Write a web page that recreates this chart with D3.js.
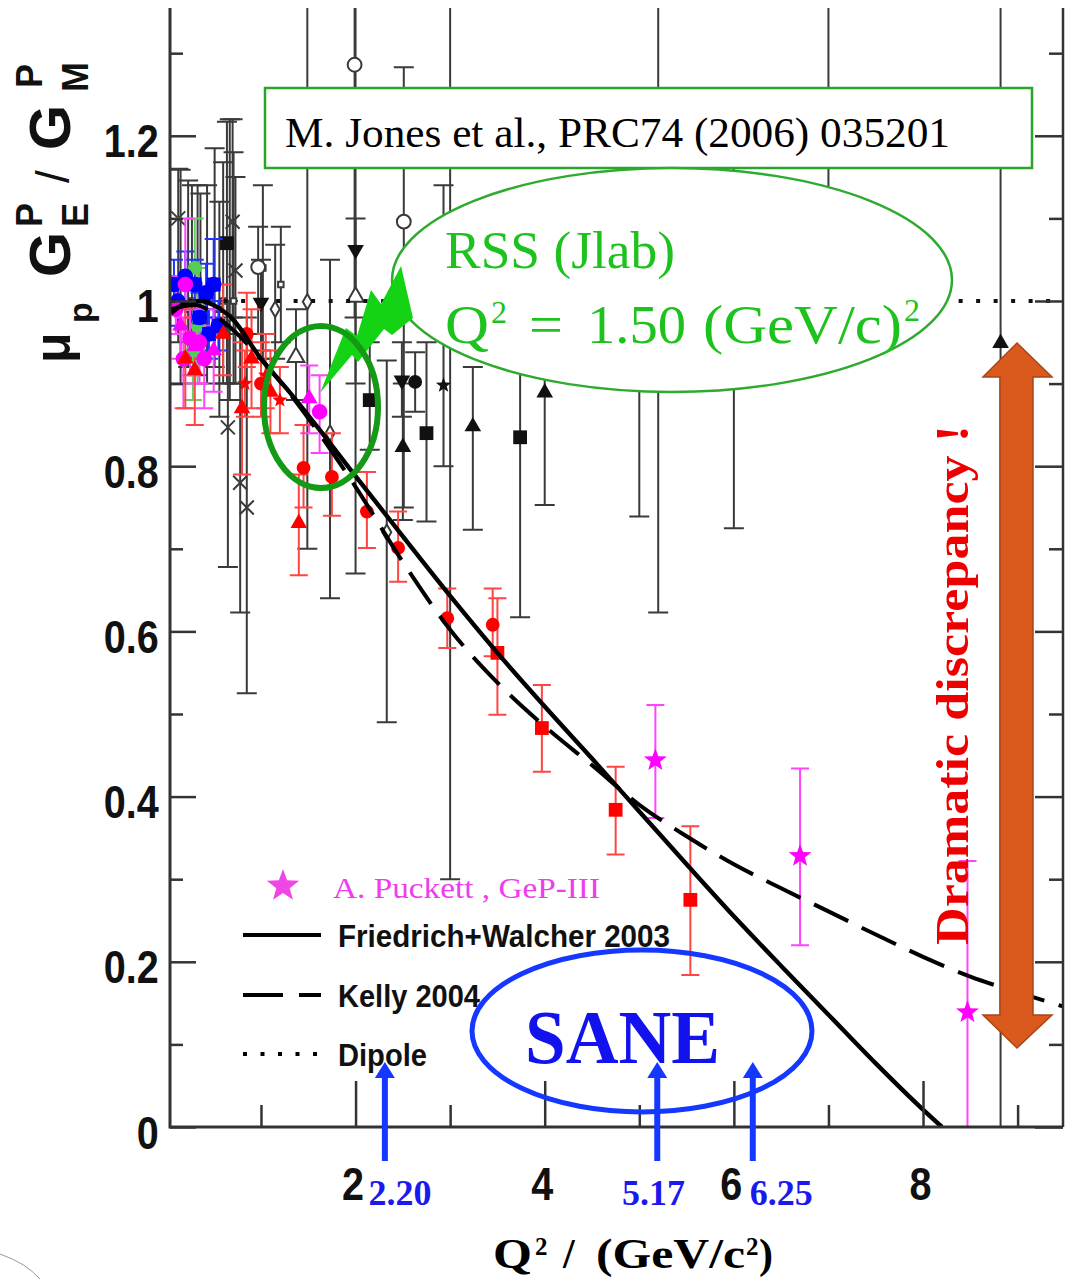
<!DOCTYPE html>
<html lang="en">
<head>
<meta charset="UTF-8">
<title>mu_p GEp/GMp vs Q2</title>
<script src="https://cdn.jsdelivr.net/npm/d3@7"></script>
<style>
  body { margin: 0; background: #fff; }
  svg { display: block; }
  .serif { font-family: 'Liberation Serif', 'Times New Roman', serif; }
  .sans { font-family: 'Liberation Sans', Arial, sans-serif; }
</style>
</head>
<body>
<div id="chart"></div>
<script>
const width = 1065, height = 1279;
const plot = { left: 170, right: 1063, top: 8, bottom: 1127 };

// ---- data: each row is [Q2, value, low end of bar, high end of bar] ----
const oldOpenCircle = [[1.99, 1.286, 0.98, 1.6], [2.51, 1.096, 0.75, 1.283], [0.97, 1.041, 0.96, 1.09]];
const oldOpenTriangle = [[2.0, 1.005, 0.67, 1.1], [1.37, 0.932, 0.88, 0.99]];
const oldOpenDiamond = [[1.49, 0.999, 0.70, 1.6], [1.15, 0.99, 0.93, 1.068], [2.33, 0.72, 0.49, 0.928], [1.73, 0.84, 0.64, 1.05]];
const oldDown = [[2.0, 1.062, 0.9, 1.6], [2.49, 0.904, 0.86, 0.95], [1.0, 0.998, 0.94, 1.05]];
const oldCircle = [[2.63, 0.902, 0.866, 0.938]];
const oldSquare = [[0.64, 1.07, 0.9, 1.217], [2.15, 0.880, 0.82, 0.95], [2.75, 0.840, 0.733, 0.95], [3.74, 0.835, 0.617, 1.05]];
const oldUp = [[2.5, 0.823, 0.735, 0.9], [3.24, 0.848, 0.723, 0.92], [4.0, 0.889, 0.753, 1.02], [8.82, 0.949, 0.0, 1.6]];
const oldStar = [[2.93, 0.898, 0.80, 1.14]];
const oldCross = [[0.125, 1.10, 0.95, 1.16], [0.70, 1.096, 0.98, 1.22], [0.73, 1.037, 0.9, 1.15],
                  [0.65, 0.847, 0.678, 1.0], [0.78, 0.78, 0.623, 0.96], [0.85, 0.75, 0.525, 0.98]];
const oldHidden = [[3.0, 1.0, 0.30, 1.6], [5.0, 0.98, 0.739, 1.2], [5.2, 1.02, 0.623, 1.6], [6.0, 0.97, 0.725, 1.2],
                   [7.0, 1.05, 0.95, 1.6], [0.15, 1.0, 0.9, 1.159], [0.23, 0.99, 0.92, 1.146], [0.27, 1.0, 0.93, 1.14],
                   [0.33, 0.98, 0.91, 1.14], [0.43, 1.0, 0.9, 1.14], [0.51, 1.02, 0.92, 1.185], [0.60, 1.0, 0.9, 1.168],
                   [0.67, 0.98, 0.88, 1.22], [1.02, 1.04, 0.93, 1.14], [0.36, 1.01, 0.94, 1.13], [0.56, 0.99, 0.86, 1.12],
                   [0.71, 1.0, 0.9, 1.18], [1.21, 1.02, 0.95, 1.09]];

const redUp = [[0.2, 0.93, 0.87, 0.99], [0.3, 0.916, 0.85, 0.98], [0.6, 0.96, 0.91, 1.02], [0.8, 0.87, 0.79, 0.95],
               [0.9, 0.93, 0.87, 0.99], [1.1, 0.89, 0.84, 0.94], [1.4, 0.731, 0.668, 0.79]];
const redCircle = [[0.85, 0.96, 0.92, 1.01], [1.0, 0.90, 0.86, 0.95], [1.45, 0.798, 0.75, 0.85], [1.75, 0.787, 0.74, 0.84],
                   [2.12, 0.745, 0.701, 0.793], [2.45, 0.701, 0.66, 0.745], [2.97, 0.616, 0.58, 0.652], [3.45, 0.608, 0.57, 0.652]];
const redSquare = [[3.5, 0.574, 0.499, 0.64], [3.97, 0.483, 0.43, 0.535], [4.75, 0.384, 0.33, 0.436], [5.54, 0.275, 0.184, 0.364]];
const redStar = [[0.83, 0.90, 0.86, 0.94], [1.05, 0.91, 0.87, 0.96], [1.2, 0.88, 0.84, 0.92]];

const magentaCircle = [[0.1, 0.99, 0.96, 1.03], [0.18, 0.93, 0.87, 0.98], [0.25, 0.955, 0.91, 1.0], [0.35, 0.95, 0.9, 1.0],
                       [0.4, 0.93, 0.87, 0.97], [0.2, 1.02, 0.98, 1.1], [1.62, 0.866, 0.816, 0.91]];
const magentaUp = [[0.15, 0.97, 0.93, 1.0], [0.3, 0.945, 0.9, 0.99], [0.5, 0.94, 0.89, 0.99], [1.51, 0.882, 0.84, 0.922]];
const blueCircle = [[0.08, 1.02, 0.99, 1.05], [0.12, 1.0, 0.97, 1.03], [0.2, 1.03, 1.0, 1.06], [0.3, 1.02, 0.99, 1.05],
                    [0.35, 0.98, 0.94, 1.01], [0.42, 1.01, 0.98, 1.045], [0.45, 0.96, 0.93, 0.99], [0.55, 0.97, 0.94, 1.0],
                    [0.5, 1.02, 0.98, 1.075]];
const greenCircle = [[0.3, 1.04, 0.99, 1.1], [0.33, 0.97, 0.9, 1.04], [0.28, 0.94, 0.88, 0.99]];

// A. Puckett, GeP-III
const gep3 = [[5.17, 0.444, 0.374, 0.511], [6.7, 0.328, 0.22, 0.434], [8.47, 0.139, 0.0, 0.322]];

// fits
const fwQ2 = [0.05, 0.2, 0.36, 0.5, 0.7, 1.0, 1.3, 1.6, 2.0, 2.5, 3.0, 3.5, 4.0, 4.5, 5.0, 5.5, 6.0, 6.5, 7.0, 7.5, 8.0, 8.2];
const fwVal = [0.985, 0.997, 1.0, 0.995, 0.978, 0.93, 0.89, 0.847, 0.788, 0.715, 0.643, 0.574, 0.509, 0.446, 0.382, 0.318, 0.255, 0.195, 0.136, 0.077, 0.021, 0.0];
const kellyQ2 = [0.05, 0.3, 0.6, 1.0, 1.5, 2.0, 2.5, 3.0, 3.5, 4.0, 4.5, 5.0, 5.5, 6.0, 6.5, 7.0, 7.5, 8.0, 8.5, 9.0, 9.48];
const kellyVal = [0.99, 0.995, 0.975, 0.93, 0.858, 0.775, 0.684, 0.602, 0.538, 0.485, 0.438, 0.39, 0.352, 0.318, 0.289, 0.261, 0.233, 0.206, 0.182, 0.163, 0.146];
const dipoleQ2 = [0.05, 9.48];
const dipoleVal = [1.0, 1.0];

// axes
const yMajor = [0, 0.2, 0.4, 0.6, 0.8, 1.0, 1.2];
const yMinor = [0.1, 0.3, 0.5, 0.7, 0.9, 1.1, 1.3];
const xMajor = [2, 4, 6, 8];
const xMinor = [1, 3, 5, 7, 9];

// SANE kinematics
const saneArrowQ2 = [2.31, 5.19, 6.2];
const saneLabelQ2 = [2.47, 5.15, 6.5];
const saneLabels = ["2.20", "5.17", "6.25"];

const x = d3.scaleLinear().domain([0, 9.48]).range([166.4, 1063]);
const y = d3.scaleLinear().domain([0, 1.3547]).range([1127, 8]);

const svg = d3.select("#chart").append("svg")
    .attr("width", width)
    .attr("height", height);

svg.append("rect").attr("width", width).attr("height", height).attr("fill", "#fff");

svg.append("defs").append("clipPath").attr("id", "clip")
  .append("rect")
    .attr("x", plot.left).attr("y", plot.top)
    .attr("width", plot.right - plot.left).attr("height", plot.bottom - plot.top);

const gPlot = svg.append("g").attr("clip-path", "url(#clip)");

function errorBars(data, color, cap, sw) {
    const g = gPlot.append("g").attr("stroke", color).attr("stroke-width", sw).attr("fill", "none");
    g.selectAll("line").data(data).join("line")
        .attr("x1", d => x(d[0])).attr("x2", d => x(d[0]))
        .attr("y1", d => y(d[2])).attr("y2", d => y(d[3]));
    g.selectAll("path").data(data).join("path")
        .attr("d", d => `M${x(d[0]) - cap / 2},${y(d[2])}h${cap}M${x(d[0]) - cap / 2},${y(d[3])}h${cap}`);
}

function starPath(R, r) {
    const pts = d3.range(10).map(i => {
        const a = -Math.PI / 2 + i * Math.PI / 5;
        const rad = i % 2 ? r : R;
        return [rad * Math.cos(a), rad * Math.sin(a)];
    });
    return "M" + pts.join("L") + "Z";
}

const shapes = {
    circle: d3.symbol(d3.symbolCircle, 150)(),
    bigcircle: d3.symbol(d3.symbolCircle, 190)(),
    square: d3.symbol(d3.symbolSquare, 190)(),
    up: d3.symbol(d3.symbolTriangle, 120)(),
    star: starPath(8, 3.4),
    bigstar: starPath(12, 5),
    cross: "M-7,-7L7,7M-7,7L7,-7",
    diamond: d3.symbol(d3.symbolDiamond, 70)(),
    small: d3.symbol(d3.symbolSquare, 30)()
};

function markers(data, shape, fill, stroke, rot) {
    gPlot.append("g").selectAll("path").data(data).join("path")
        .attr("transform", d => `translate(${x(d[0])},${y(d[1])})${rot ? " rotate(180)" : ""}`)
        .attr("d", shapes[shape])
        .attr("fill", fill)
        .attr("stroke", stroke || "none")
        .attr("stroke-width", 2);
}

// old (Rosenbluth) data
const black = "#3a3a3a";
[oldHidden, oldOpenCircle, oldOpenTriangle, oldOpenDiamond, oldDown, oldCircle, oldSquare, oldUp, oldStar, oldCross]
    .forEach(s => errorBars(s, black, 20, 2));
markers(oldHidden, "small", "#fff", black);
markers(oldOpenCircle, "circle", "#fff", black);
markers(oldOpenTriangle, "up", "#fff", black);
markers(oldOpenDiamond, "diamond", "#fff", black);
markers(oldDown, "up", "#111", null, true);
markers(oldCircle, "circle", "#111");
markers(oldSquare, "square", "#111");
markers(oldUp, "up", "#111");
markers(oldStar, "star", "#111");
markers(oldCross, "cross", "none", black);

// polarization data
errorBars(greenCircle, "#66cc66", 18, 2);
errorBars(blueCircle, "#2233ff", 18, 2);
errorBars(magentaCircle, "#ff44ff", 18, 2);
errorBars(magentaUp, "#ff44ff", 18, 2);
errorBars(redUp, "#ff4444", 18, 2);
errorBars(redCircle, "#ff4444", 18, 2);
errorBars(redSquare, "#ff4444", 18, 2);
errorBars(redStar, "#ff4444", 18, 2);
markers(greenCircle, "circle", "#55cc55");
markers(blueCircle, "bigcircle", "#0000ff");
markers(blueCircle.slice(3), "square", "#0000ff");
markers(magentaCircle, "bigcircle", "#ff00ff");
markers(magentaUp, "up", "#ff00ff");
markers(redUp, "up", "#ff0000");
markers(redCircle, "circle", "#ff0000");
markers(redSquare, "square", "#ff0000");
markers(redStar, "star", "#ff0000");

errorBars(gep3, "#ff44ff", 18, 2);
markers(gep3, "bigstar", "#ff00ff");

// fits
const line = d3.line().x(d => x(d[0])).y(d => y(d[1])).curve(d3.curveMonotoneX);
gPlot.append("path").datum(d3.zip(dipoleQ2, dipoleVal)).attr("d", line)
    .attr("fill", "none").attr("stroke", "#111").attr("stroke-width", 4).attr("stroke-dasharray", "4,13.5");
gPlot.append("path").datum(d3.zip(kellyQ2, kellyVal)).attr("d", line)
    .attr("fill", "none").attr("stroke", "#000").attr("stroke-width", 4).attr("stroke-dasharray", "38,15");
gPlot.append("path").datum(d3.zip(fwQ2, fwVal)).attr("d", line)
    .attr("fill", "none").attr("stroke", "#000").attr("stroke-width", 4.4);

// axes
const axisColor = "#333";
function styleAxis(g) {
    g.select(".domain").remove();
    g.selectAll(".tick line").attr("stroke", axisColor).attr("stroke-width", 2.5);
}
svg.append("g").attr("transform", `translate(${plot.left},0)`)
    .call(d3.axisLeft(y).tickValues(yMinor).tickSize(-13).tickFormat(""))
    .call(styleAxis);
const yAxis = svg.append("g").attr("transform", `translate(${plot.left},0)`)
    .call(d3.axisLeft(y).tickValues(yMajor).tickSize(-26).tickPadding(13).tickFormat(d => d3.format("")(d)))
    .call(styleAxis);
yAxis.selectAll("text")
    .attr("class", "sans").attr("font-size", 46).attr("font-weight", "bold").attr("fill", "#111")
    .attr("dy", 21).attr("transform", "scale(0.86,1)");

svg.append("g").attr("transform", `translate(${plot.right},0)`)
    .call(d3.axisRight(y).tickValues(yMinor).tickSize(-14).tickFormat(""))
    .call(styleAxis);
svg.append("g").attr("transform", `translate(${plot.right},0)`)
    .call(d3.axisRight(y).tickValues(yMajor).tickSize(-28).tickFormat(""))
    .call(styleAxis);

svg.append("g").attr("transform", `translate(0,${plot.bottom})`)
    .call(d3.axisBottom(x).tickValues(xMinor).tickSize(-22).tickFormat(""))
    .call(styleAxis);
const xAxis = svg.append("g").attr("transform", `translate(0,${plot.bottom})`)
    .call(d3.axisBottom(x).tickValues(xMajor).tickSize(-46).tickPadding(40))
    .call(styleAxis);
xAxis.selectAll("text")
    .attr("class", "sans").attr("font-size", 46).attr("font-weight", "bold").attr("fill", "#111")
    .attr("transform", "translate(-3,0) scale(0.86,1)");

svg.append("line").attr("x1", plot.left).attr("x2", plot.left).attr("y1", plot.top).attr("y2", plot.bottom + 1.5)
    .attr("stroke", axisColor).attr("stroke-width", 3);
svg.append("line").attr("x1", plot.left).attr("x2", plot.right).attr("y1", plot.bottom).attr("y2", plot.bottom)
    .attr("stroke", axisColor).attr("stroke-width", 3);
svg.append("line").attr("x1", plot.right).attr("x2", plot.right).attr("y1", plot.top).attr("y2", plot.bottom)
    .attr("stroke", axisColor).attr("stroke-width", 2.5);

// y axis title: mu_p G_E^P / G_M^P
const yTitle = svg.append("g").attr("transform", "rotate(-90)")
    .attr("class", "sans").attr("font-weight", "bold").attr("fill", "#111");
[["μ", -363, 70, 50], ["p", -323, 92, 34], ["G", -277, 70, 58], ["E", -227, 88, 36], ["P", -227, 42, 36],
 ["G", -150, 70, 58], ["M", -92, 88, 36], ["P", -88, 42, 36]]
    .forEach(([t, u, v, s]) => yTitle.append("text").attr("x", u).attr("y", v).attr("font-size", s).text(t));
yTitle.append("text").attr("x", -183).attr("y", 69).attr("font-size", 46).attr("font-weight", "normal").text("/");

// x axis title
const xTitle = svg.append("g").attr("class", "serif").attr("font-weight", "bold").attr("fill", "#000");
xTitle.append("text").attr("x", 493).attr("y", 1268).attr("font-size", 42).attr("textLength", 39).attr("lengthAdjust", "spacingAndGlyphs").text("Q");
xTitle.append("text").attr("x", 535).attr("y", 1255).attr("font-size", 25).text("2");
xTitle.append("text").attr("x", 563).attr("y", 1268).attr("font-size", 42).text("/");
xTitle.append("text").attr("x", 596).attr("y", 1268).attr("font-size", 42).attr("textLength", 149).attr("lengthAdjust", "spacingAndGlyphs").text("(GeV/c");
xTitle.append("text").attr("x", 746).attr("y", 1255).attr("font-size", 25).text("2");
xTitle.append("text").attr("x", 759).attr("y", 1268).attr("font-size", 42).text(")");

// reference box
svg.append("rect").attr("x", 265).attr("y", 88).attr("width", 767).attr("height", 80)
    .attr("fill", "#fff").attr("stroke", "#2aa52a").attr("stroke-width", 2.5);
svg.append("text").attr("class", "serif").attr("x", 285).attr("y", 147).attr("font-size", 43)
    .attr("textLength", 665).attr("lengthAdjust", "spacingAndGlyphs").attr("fill", "#000")
    .text("M. Jones et al., PRC74 (2006) 035201");

// RSS callout
const rssGreen = "#1ec21e";
svg.append("ellipse").attr("cx", 672).attr("cy", 280).attr("rx", 280).attr("ry", 112)
    .attr("fill", "#fff").attr("stroke", "#2eaa2e").attr("stroke-width", 2.5);
svg.append("path")
    .attr("d", "M320,393L346,328L357,336L371,290L381,304L401,266L413,318L392,335L384,329L358,362L352,355Z")
    .attr("fill", "#14d214");
const rss = svg.append("g").attr("class", "serif").attr("fill", rssGreen);
rss.append("text").attr("x", 445).attr("y", 268).attr("font-size", 52).attr("textLength", 230).attr("lengthAdjust", "spacingAndGlyphs").text("RSS (Jlab)");
rss.append("text").attr("x", 445).attr("y", 343).attr("font-size", 54).attr("textLength", 44).attr("lengthAdjust", "spacingAndGlyphs").text("Q");
rss.append("text").attr("x", 491).attr("y", 323).attr("font-size", 32).text("2");
rss.append("text").attr("x", 529).attr("y", 343).attr("font-size", 54).attr("textLength", 34).attr("lengthAdjust", "spacingAndGlyphs").text("=");
rss.append("text").attr("x", 587).attr("y", 343).attr("font-size", 54).attr("textLength", 99).attr("lengthAdjust", "spacingAndGlyphs").text("1.50");
rss.append("text").attr("x", 703).attr("y", 343).attr("font-size", 54).attr("textLength", 199).attr("lengthAdjust", "spacingAndGlyphs").text("(GeV/c)");
rss.append("text").attr("x", 904).attr("y", 321).attr("font-size", 32).text("2");

// circle around the RSS points
svg.append("ellipse").attr("cx", 321).attr("cy", 407).attr("rx", 57).attr("ry", 81)
    .attr("fill", "none").attr("stroke", "#149a14").attr("stroke-width", 6);

// legend
const legend = svg.append("g");
legend.append("path").attr("transform", "translate(283,886)").attr("d", starPath(17, 7)).attr("fill", "#f046e6");
legend.append("text").attr("class", "serif").attr("x", 333).attr("y", 898).attr("font-size", 30)
    .attr("textLength", 267).attr("lengthAdjust", "spacingAndGlyphs").attr("fill", "#ee3cee").text("A. Puckett , GeP-III");
const legendRows = [["Friedrich+Walcher 2003", 935, null, 332], ["Kelly 2004", 995, "40,16", 142], ["Dipole", 1054, "4,13.5", 89]];
legendRows.forEach(([label, ly, dash, tl]) => {
    legend.append("line").attr("x1", 243).attr("x2", 321).attr("y1", ly).attr("y2", ly)
        .attr("stroke", "#000").attr("stroke-width", 4).attr("stroke-dasharray", dash);
    legend.append("text").attr("class", "sans").attr("x", 338).attr("y", ly + 12).attr("font-size", 31)
        .attr("font-weight", "bold").attr("fill", "#111")
        .attr("textLength", tl).attr("lengthAdjust", "spacingAndGlyphs").text(label);
});

// SANE
const saneBlue = "#1438ff";
svg.append("ellipse").attr("cx", 642).attr("cy", 1031).attr("rx", 170).attr("ry", 81)
    .attr("fill", "none").attr("stroke", saneBlue).attr("stroke-width", 5);
svg.append("text").attr("class", "serif").attr("x", 525).attr("y", 1063).attr("font-size", 77)
    .attr("font-weight", "bold").attr("fill", "#1212ee")
    .attr("textLength", 195).attr("lengthAdjust", "spacingAndGlyphs").text("SANE");
const arrows = svg.append("g").attr("fill", saneBlue).attr("stroke", saneBlue);
saneArrowQ2.forEach(q => {
    const ax = x(q);
    arrows.append("line").attr("x1", ax).attr("x2", ax).attr("y1", 1161).attr("y2", 1074).attr("stroke-width", 6);
    arrows.append("path").attr("d", `M${ax},1062L${ax + 10},1078L${ax - 10},1078Z`).attr("stroke", "none");
});
svg.append("g").selectAll("text").data(saneLabels).join("text")
    .attr("class", "serif").attr("font-weight", "bold").attr("font-size", 36).attr("fill", "#1a1aee")
    .attr("text-anchor", "middle")
    .attr("x", (d, i) => x(saneLabelQ2[i])).attr("y", 1205)
    .text(d => d);

// dramatic discrepancy arrow
svg.append("path")
    .attr("d", "M1017,343L1052,377L1033,377L1033,1015L1052,1015L1017,1048L983,1015L1000,1015L1000,377L983,377Z")
    .attr("fill", "#d95a1c").attr("stroke", "#a8461a").attr("stroke-width", 1.5);
svg.append("text").attr("class", "serif").attr("transform", "rotate(-90)")
    .attr("x", -945).attr("y", 968).attr("font-size", 46).attr("font-weight", "bold").attr("fill", "#ee0000")
    .attr("textLength", 520).attr("lengthAdjust", "spacingAndGlyphs")
    .text("Dramatic discrepancy !");

// slide edge artifact
svg.append("path").attr("d", "M0,1254Q26,1263 40,1279").attr("fill", "none").attr("stroke", "#999").attr("stroke-width", 1);
</script>
</body>
</html>
